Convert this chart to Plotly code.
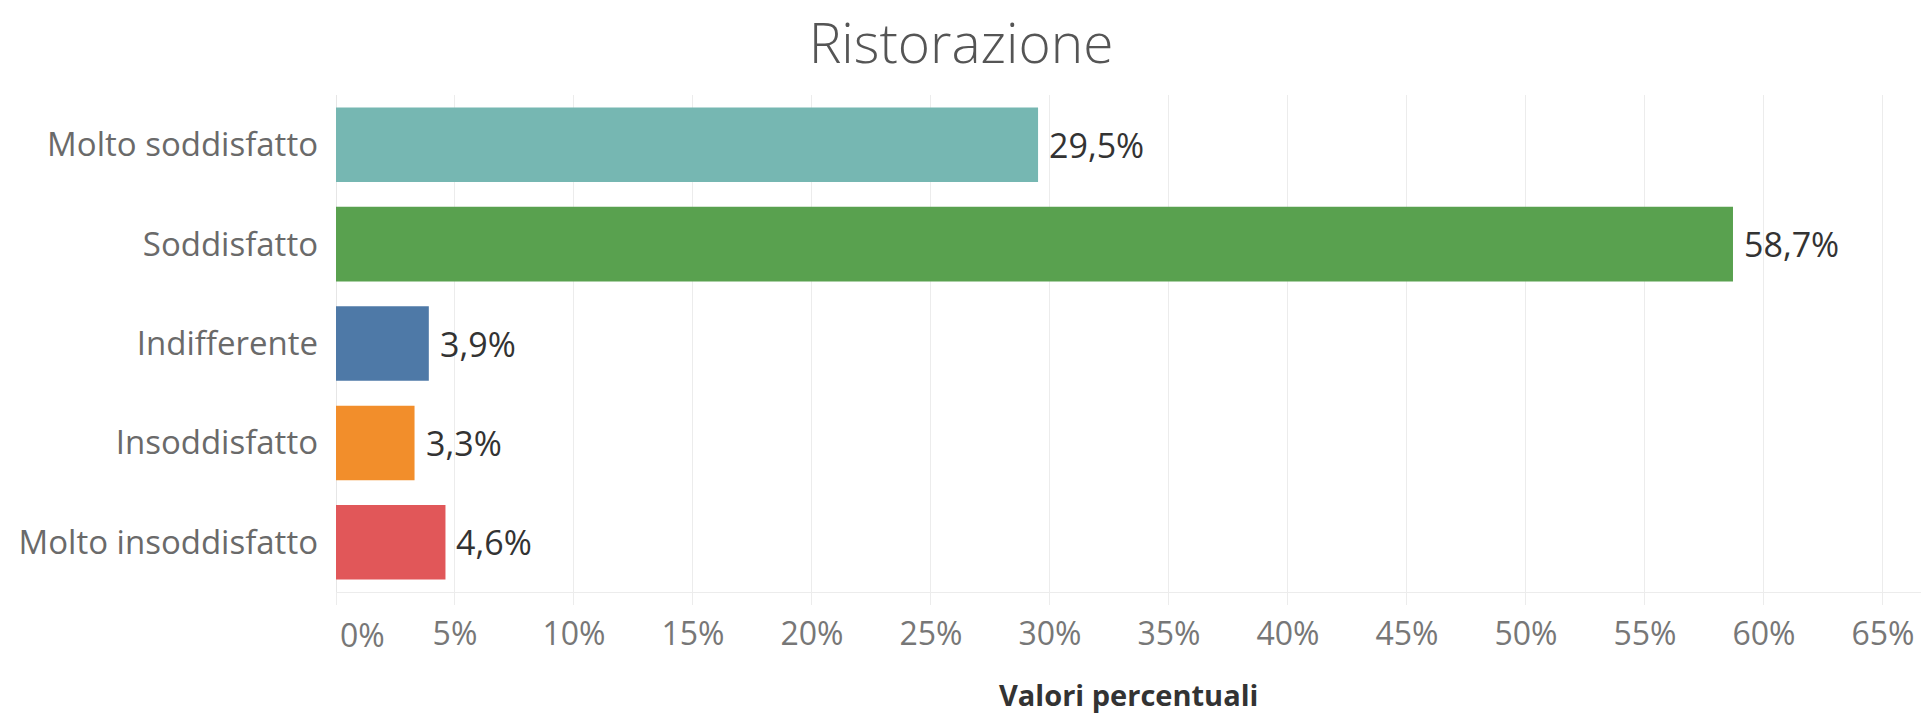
import plotly.graph_objects as go

categories = ["Molto soddisfatto", "Soddisfatto", "Indifferente", "Insoddisfatto", "Molto insoddisfatto"]
values = [29.5, 58.7, 3.9, 3.3, 4.6]
colors = ["#76b7b2", "#59a14f", "#4e79a7", "#f28e2b", "#e15759"]
tick_vals = [0, 5, 10, 15, 20, 25, 30, 35, 40, 45, 50, 55, 60, 65]
tick_text = ["" if v == 0 else f"{v}%" for v in tick_vals]
title_text = "Ristorazione"
x_title = "Valori percentuali"

FONT = "Open Sans"

fig = go.Figure()
fig.add_trace(go.Bar(
    y=categories, x=values, orientation="h",
    marker=dict(color=colors, line=dict(width=0)),
    width=0.75, showlegend=False, hoverinfo="skip",
))

annotations = []
for c, v in zip(categories, values):
    annotations.append(dict(
        x=v, y=c, xref="x", yref="y", text=f"{v:.1f}%".replace(".", ","),
        showarrow=False, xanchor="left", yanchor="middle", xshift=9,
        font=dict(family=FONT, size=34, color="#333333"),
    ))
# first tick label, left-aligned as in the original
annotations.append(dict(
    x=0, y=0, xref="x", yref="paper", text="0%", showarrow=False,
    xanchor="left", yanchor="middle", xshift=2, yshift=-42,
    font=dict(family=FONT, size=32, color="#777777"),
))
annotations.append(dict(
    x=0.5, y=0, xref="paper", yref="paper", text=f"<b>{x_title}</b>", showarrow=False,
    xanchor="center", yanchor="middle", yshift=-102,
    font=dict(family=FONT, size=29, color="#333333"),
))

fig.update_layout(
    width=1923, height=706,
    paper_bgcolor="white", plot_bgcolor="white",
    margin=dict(l=328, r=10, t=87, b=122),
    title=dict(text=title_text, x=0.4956, xanchor="center", xref="container",
               y=0.949, yanchor="middle", yref="container",
               font=dict(family=FONT, size=55, color="#555555", weight=300)),
    annotations=annotations,
    bargap=0.25,
)
fig.update_xaxes(
    range=[0, 66.6], tickvals=tick_vals, ticktext=tick_text,
    showgrid=True, gridcolor="#ececec", gridwidth=1,
    zeroline=True, zerolinecolor="#e6e6e6", zerolinewidth=1,
    ticks="outside", ticklen=12, tickcolor="#ececec",
    showline=True, linecolor="#ececec", linewidth=1,
    tickfont=dict(family=FONT, size=32, color="#777777"),
    ticklabelstandoff=2,
)
fig.update_yaxes(
    categoryorder="array", categoryarray=categories[::-1],
    showgrid=False, zeroline=False, showline=False,
    ticks="", ticklabelstandoff=17,
    tickfont=dict(family=FONT, size=33, color="#6a6a6a"),
)

fig.write_html("out.html")
